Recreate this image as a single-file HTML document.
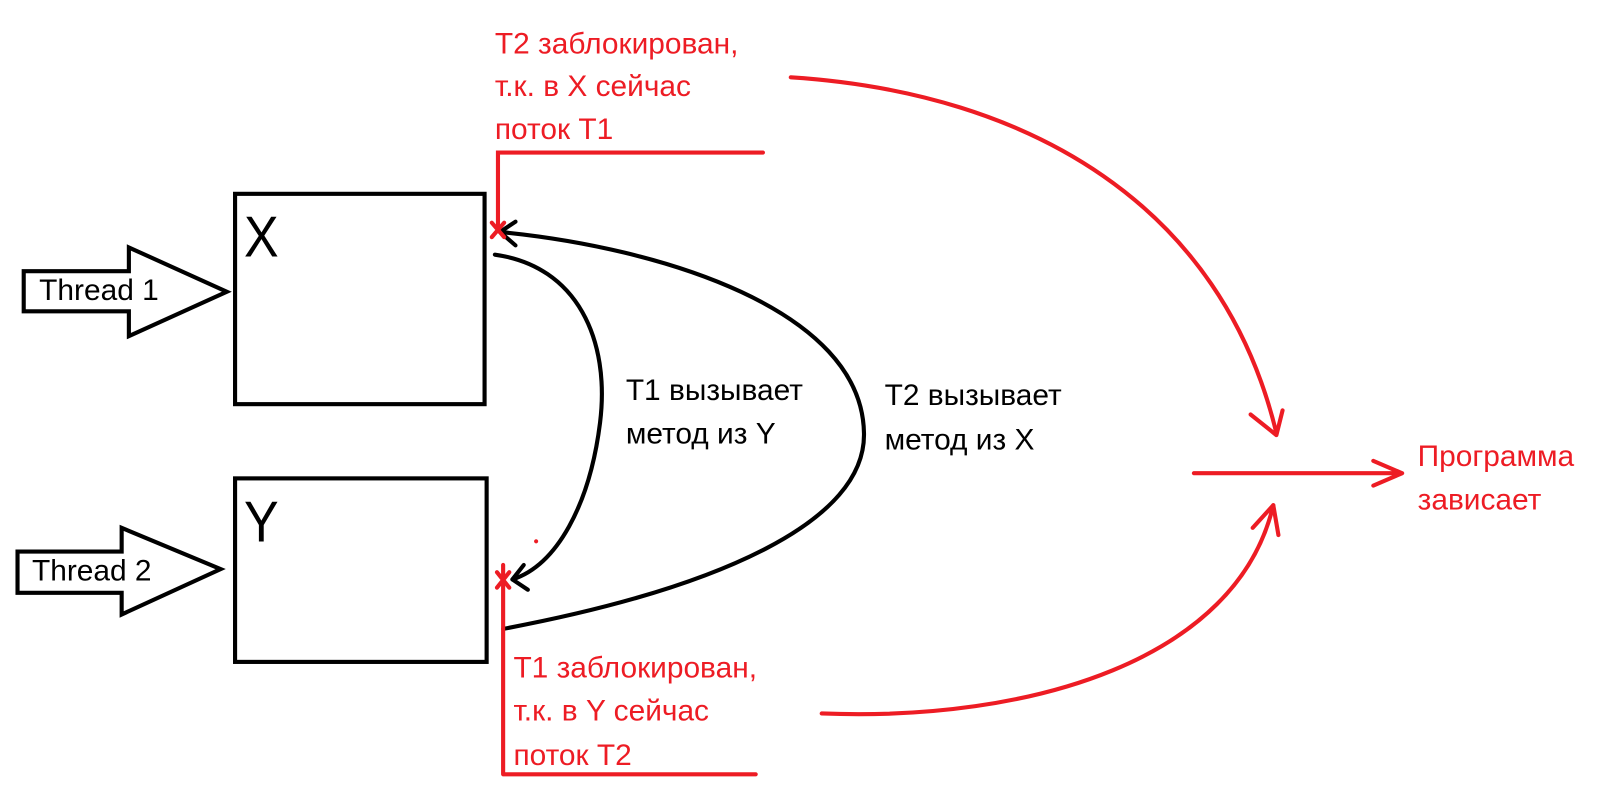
<!DOCTYPE html>
<html><head><meta charset="utf-8"><style>
html,body{margin:0;padding:0;background:#fff;}
svg{display:block;}
text{font-family:"Liberation Sans",sans-serif;}
</style></head><body>
<svg width="1609" height="809" viewBox="0 0 1609 809" xmlns="http://www.w3.org/2000/svg">
<g transform="scale(1.031)">
<g fill="none" stroke="#000" stroke-width="4" stroke-linejoin="miter">
<rect x="228" y="188" width="242" height="204"/>
<rect x="228" y="464" width="244" height="178"/>
<path d="M23,263 H125 V240 L220,283 L125,326 V302 H23 Z"/>
<path d="M17,535 H118 V512 L214,552 L118,596 V575 H17 Z"/>
</g>
<text x="237" y="249" font-size="56" fill="#000" transform="scale(0.9,1) translate(26,0)">X</text>
<text x="237" y="525" font-size="56" fill="#000" transform="scale(0.9,1) translate(26,0)">Y</text>
<text x="38" y="291" font-size="29" fill="#000">Thread 1</text>
<text x="31" y="563" font-size="29" fill="#000">Thread 2</text>

<g fill="none" stroke="#000" stroke-width="4" stroke-linecap="round">
<path d="M488,610 C700,570 840,505 838,420 C836,300 640,240 485,225"/>
<path d="M485,225 L500,215 M485,225 L500,238"/>
<path d="M480,247 C560,258 592,330 582,410 C572,490 540,548 497,562"/>
<path d="M497,562 L508,548 M497,562 L512,572"/>
</g>
<g fill="#000" font-size="29">
<text x="607" y="388">T1 вызывает</text>
<text x="607" y="430">метод из Y</text>
<text x="858" y="393">T2 вызывает</text>
<text x="858" y="436">метод из X</text>
</g>

<g fill="none" stroke="#ed1c24" stroke-width="4" stroke-linecap="round">
<path d="M740,148 H483 V222"/>
<path d="M477,216 L489,230 M489,216 L477,230"/>
<path d="M488,751 V548 M488,751 H733"/>
<path d="M482,555 L494,570 M494,555 L482,570"/>
<path d="M767,75 C1000,90 1185,200 1238,420"/>
<path d="M1238,422 L1213,402 M1238,422 L1244,398"/>
<path d="M797,692 C1000,700 1200,640 1235,490"/>
<path d="M1235,490 L1215,512 M1235,490 L1240,519"/>
<path d="M1158,459 H1360 M1360,459 L1332,447 M1360,459 L1332,471"/>
</g>
<circle cx="520" cy="525" r="2" fill="#ed1c24"/>
<g fill="#ed1c24" font-size="29">
<text x="480" y="52">T2 заблокирован,</text>
<text x="480" y="93">т.к. в X сейчас</text>
<text x="480" y="135">поток T1</text>
<text x="498" y="657">T1 заблокирован,</text>
<text x="498" y="699">т.к. в Y сейчас</text>
<text x="498" y="742">поток T2</text>
<text x="1375" y="452">Программа</text>
<text x="1375" y="494">зависает</text>
</g>
</g>
</svg>
</body></html>
